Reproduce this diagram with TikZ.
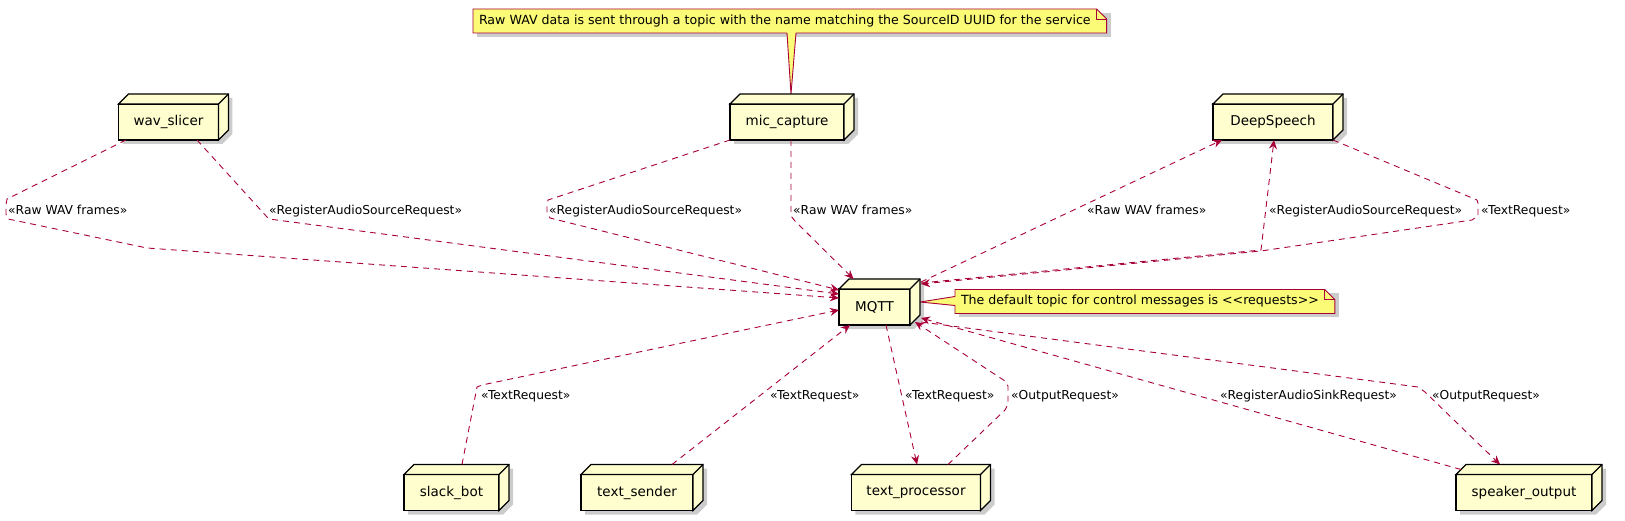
\documentclass[tikz,border=0pt]{standalone}
\usepackage{fontspec}
\setmainfont{DejaVu Sans}
\usetikzlibrary{arrows.meta,backgrounds}
\definecolor{NodeFill}{HTML}{FEFECE}
\definecolor{NoteFill}{HTML}{FBFB77}
\definecolor{Wire}{HTML}{A80036}

% 3d faces and shadow of a node box
\newcommand{\cuboid}[1]{%
  \begin{pgfonlayer}{background}
    \fill[black!20, transform canvas={xshift=4pt,yshift=-4pt}] (#1.north west) -- ++(10,-10) -- ([shift={(10,-10)}]#1.north east) -- ([shift={(10,-10)}]#1.south east) -- (#1.south east) -- (#1.south west) -- cycle;
  \end{pgfonlayer}
  \draw[line width=1.2pt, fill=NodeFill] (#1.north west) -- ++(10,-10) -- ([shift={(10,-10)}]#1.north east) -- ([shift={(10,-10)}]#1.south east) -- (#1.south east) -- (#1.north east) -- cycle;
  \draw[line width=1.2pt] (#1.north east) -- ++(10,-10);
}
% note sheet with folded corner
\newcommand{\notefold}[1]{%
  \begin{pgfonlayer}{background}
    \fill[black!20, transform canvas={xshift=4pt,yshift=-4pt}] (#1.north west) -- ([xshift=10pt]#1.north east) -- ([xshift=10pt]#1.south east) -- (#1.south west) -- cycle;
    \filldraw[draw=Wire, fill=NoteFill, line width=0.9pt] (#1.north west) -- (#1.north east) -- ([xshift=10pt,yshift=-10pt]#1.north east) -- ([xshift=10pt]#1.south east) -- (#1.south west) -- cycle;
    \draw[Wire, line width=0.9pt] (#1.north east) |- ([xshift=10pt,yshift=-10pt]#1.north east);
  \end{pgfonlayer}
}

\begin{document}
\begin{tikzpicture}[x=1pt, y=-1pt,
    box/.style={draw=black, line width=1.2pt, fill=NodeFill, outer sep=0pt, minimum height=36pt, inner xsep=15pt, font=\fontsize{13.5}{16}\selectfont},
    note/.style={anchor=west, outer sep=0pt, minimum height=24pt, inner xsep=6pt, inner ysep=0pt, font=\fontsize{12.6}{15}\selectfont},
    link/.style={draw=Wire, line width=0.9pt, dash pattern=on 6pt off 5pt},
    arrowto/.style={-{Stealth[length=9pt,width=8pt,inset=3pt]}},
    msg/.style={anchor=base west, inner sep=0pt, font=\fontsize{12.3}{14}\selectfont}
  ]
  \useasboundingbox (0,0) rectangle (1625,521);

  % services
  \node[box, minimum width=99pt] (wav) at (168.5,122) {wav\_slicer};
  \node[box, minimum width=114pt] (mic) at (787,122) {mic\_capture};
  \node[box, minimum width=120pt] (ds) at (1273,122) {DeepSpeech};
  \node[box, minimum width=71pt] (mqtt) at (874.5,307) {MQTT};
  \node[box, minimum width=95pt] (slack) at (451.5,492.5) {slack\_bot};
  \node[box, minimum width=112pt] (sender) at (637,492.5) {text\_sender};
  \node[box, minimum width=128pt] (proc) at (916,492.5) {text\_processor};
  \node[box, minimum width=136pt] (spk) at (1524,492.5) {speaker\_output};
  \foreach \n in {wav,mic,ds,mqtt,slack,sender,proc,spk} {\cuboid{\n}}

  % notes
  \node[note] (srcnote) at (473,21) {Raw WAV data is sent through a topic with the name matching the SourceID UUID for the service};
  \notefold{srcnote}
  \node[note] (ctrlnote) at (955,301.5) {The default topic for control messages is <\kern0pt<requests>\kern0pt>};
  \notefold{ctrlnote}
  \begin{pgfonlayer}{background}
    \fill[NoteFill] (787,32) -- ([xshift=4pt,yshift=10pt]mic.north) -- (796,32) -- cycle;
    \draw[Wire, line width=0.9pt] (787,33) -- ([xshift=4pt,yshift=10pt]mic.north) -- (796,33);
    \fill[NoteFill] ([xshift=1pt,yshift=5pt]ctrlnote.west) -- ([xshift=10pt,yshift=5pt]mqtt.east) -- ([xshift=1pt,yshift=-4pt]ctrlnote.west) -- cycle;
    \draw[Wire, line width=0.9pt] ([yshift=5pt]ctrlnote.west) -- ([xshift=10pt,yshift=5pt]mqtt.east) -- ([yshift=-4pt]ctrlnote.west);
  \end{pgfonlayer}

  % messages into the broker
  \draw[link, arrowto] ([xshift=-42.5pt]wav.south) -- (7,199) -- (6,205) -- (6,214) -- (8,219) -- (147,248) -- ([yshift=9pt]mqtt.west);
  \draw[link, arrowto] ([xshift=28.5pt]wav.south) -- (267,217) -- (269,219) -- ([yshift=13pt]mqtt.west);
  \draw[link, arrowto] (mic.south west) -- (548,200) -- (547,205) -- (547,213) -- (550,218) -- ([yshift=17pt]mqtt.west);
  \draw[link, arrowto] ([xshift=4pt]mic.south) -- (791,216) -- (795,221) -- ([xshift=-21pt,yshift=10pt]mqtt.north);
  \draw[link, arrowto] ([xshift=11pt,yshift=25pt]mqtt.east) -- ([xshift=-51pt]ds.south);
  \draw[link, arrowto] ([xshift=11pt,yshift=24pt]mqtt.east) -- (1261,250) -- ([xshift=1pt]ds.south);
  \draw[link, arrowto] (ds.south east) -- (1477,200) -- (1478,203) -- (1478,216) -- (1472,220) -- (1261,251) -- ([xshift=11pt,yshift=23pt]mqtt.east);
  \draw[link, arrowto] ([xshift=10.5pt,yshift=10pt]slack.north) -- (477,387) -- (482,385) -- ([yshift=-3pt]mqtt.west);
  \draw[link, arrowto] ([xshift=35pt,yshift=10pt]sender.north) -- ([xshift=11pt]mqtt.south west);
  \draw[link, arrowto] ([xshift=11.5pt]mqtt.south) -- ([xshift=1pt,yshift=10pt]proc.north);
  \draw[link, arrowto] ([xshift=32pt,yshift=10pt]proc.north) -- (1005,410) -- (1008,404) -- (1008,386) -- (1005,381) -- ([xshift=5pt,yshift=3pt]mqtt.south east);
  \draw[link, arrowto] ([xshift=5pt,yshift=5pt]spk.north west) -- ([xshift=11pt,yshift=-11pt]mqtt.east);
  \draw[link, arrowto] ([xshift=11pt,yshift=-15pt]mqtt.east) -- (1418,387) -- (1425,392) -- ([xshift=-24pt,yshift=10pt]spk.north);

  % labels
  \node[msg] (m1) at (8,214.5) {«Raw WAV frames»};
  \node[msg] (m2) at (269,214.5) {«RegisterAudioSourceRequest»};
  \node[msg] (m3) at (549,214.5) {«RegisterAudioSourceRequest»};
  \node[msg] (m4) at (793,214.5) {«Raw WAV frames»};
  \node[msg] (m5) at (1087,214.5) {«Raw WAV frames»};
  \node[msg] (m6) at (1269,214.5) {«RegisterAudioSourceRequest»};
  \node[msg] (m7) at (1481,214.5) {«TextRequest»};
  \node[msg] (m8) at (481,399.5) {«TextRequest»};
  \node[msg] (m9) at (770,399.5) {«TextRequest»};
  \node[msg] (m10) at (905,399.5) {«TextRequest»};
  \node[msg] (m11) at (1011,399.5) {«OutputRequest»};
  \node[msg] (m12) at (1220,399.5) {«RegisterAudioSinkRequest»};
  \node[msg] (m13) at (1432,399.5) {«OutputRequest»};
\end{tikzpicture}
\end{document}
